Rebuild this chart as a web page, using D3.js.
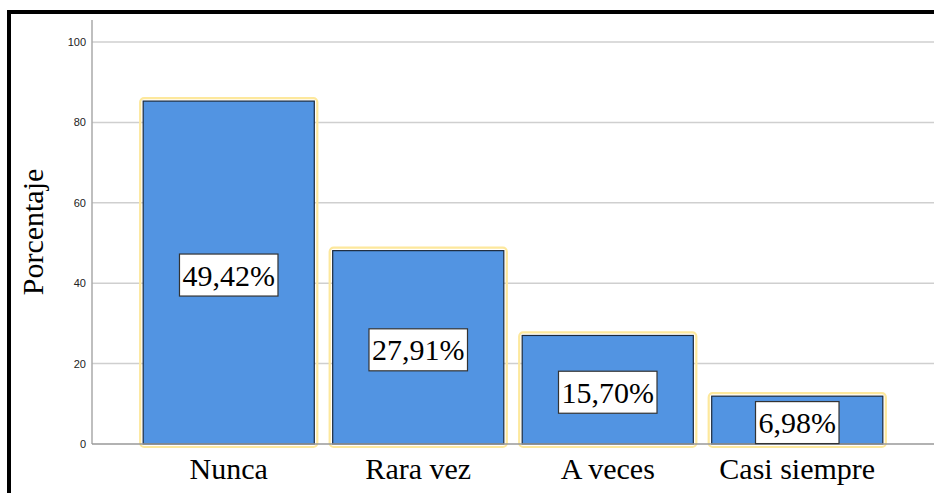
<!DOCTYPE html>
<html><head><meta charset="utf-8">
<script src="https://cdn.jsdelivr.net/npm/d3@7"></script>
<style>body{margin:0;background:#fff}svg{display:block}</style>
</head><body><svg id="c" width="934" height="493"></svg>
<script>
const categories = ["Nunca", "Rara vez", "A veces", "Casi siempre"];
const values = [85.3, 48.1, 27.0, 11.9];
const labels = ["49,42%", "27,91%", "15,70%", "6,98%"];
const yTicks = [0, 20, 40, 60, 80, 100];

(function () {
const svg = d3.select("#c");
const W = 934, H = 493;
const pLeft = 92, pRight = 934, pTop = 20, pBottom = 444;

// frame
svg.append("rect").attr("x", 9).attr("y", 12).attr("width", W).attr("height", H)
  .attr("fill", "none").attr("stroke", "#000").attr("stroke-width", 4);

const y = d3.scaleLinear().domain([0, 100]).range([pBottom, 42]);
const x = d3.scaleBand().domain(categories).range([pLeft, pRight]).paddingInner(0.097).paddingOuter(0.27);

// gridlines
svg.append("g").selectAll("line").data(yTicks.filter(t => t > 0)).join("line")
  .attr("x1", pLeft).attr("x2", pRight).attr("y1", d => y(d)).attr("y2", d => y(d))
  .attr("stroke", "#cfcfcf").attr("stroke-width", 1.5);

// y axis
const ya = svg.append("g").attr("transform", `translate(${pLeft},0)`)
  .call(d3.axisLeft(y).tickValues(yTicks).tickSize(0).tickPadding(6));
ya.select(".domain").remove();
ya.selectAll("text").attr("font-family", "Arial, 'Liberation Sans', sans-serif").attr("font-size", 11).attr("fill", "#222");
svg.append("line").attr("x1", pLeft).attr("x2", pLeft).attr("y1", pTop).attr("y2", pBottom)
  .attr("stroke", "#aaa").attr("stroke-width", 1.5);

// bars
const g = svg.append("g");
g.selectAll("rect.halo").data(values).join("rect").attr("class", "halo")
  .attr("x", (d, i) => x(categories[i]) - 3).attr("y", d => y(d) - 3)
  .attr("width", x.bandwidth() + 6).attr("height", d => pBottom - y(d) + 6)
  .attr("rx", 4).attr("fill", "none").attr("stroke", "#fde89c").attr("stroke-width", 2.2);
g.selectAll("rect.bar").data(values).join("rect").attr("class", "bar")
  .attr("x", (d, i) => x(categories[i])).attr("y", d => y(d))
  .attr("width", x.bandwidth()).attr("height", d => pBottom - y(d))
  .attr("fill", "#5294e2").attr("stroke", "#1c2a3c").attr("stroke-width", 1.2);

// x baseline
svg.append("line").attr("x1", pLeft).attr("x2", pRight).attr("y1", pBottom).attr("y2", pBottom)
  .attr("stroke", "#999").attr("stroke-width", 1.5);

// x axis labels
const xa = svg.append("g").attr("transform", `translate(0,${pBottom})`)
  .call(d3.axisBottom(x).tickSize(0).tickPadding(8));
xa.select(".domain").remove();
xa.selectAll("text").attr("font-family", "'Liberation Serif', 'Times New Roman', serif")
  .attr("font-size", 30).attr("fill", "#000").attr("dy", "0.9em");

// value labels
const lg = svg.append("g");
labels.forEach((t, i) => {
  const cx = x(categories[i]) + x.bandwidth() / 2;
  const cy = (y(values[i]) + pBottom) / 2 + 2.5;
  const grp = lg.append("g");
  const txt = grp.append("text").attr("x", cx).attr("y", cy).attr("text-anchor", "middle")
    .attr("dominant-baseline", "central")
    .attr("font-family", "'Liberation Serif', 'Times New Roman', serif").attr("font-size", 30)
    .attr("fill", "#000").text(t);
  const bb = txt.node().getBBox();
  grp.insert("rect", "text").attr("x", cx - bb.width / 2 - 3).attr("y", cy - 21)
    .attr("width", bb.width + 6).attr("height", 42)
    .attr("fill", "#fff").attr("stroke", "#333").attr("stroke-width", 1.2);
});

// y title
svg.append("text").attr("transform", `translate(43,${(pTop + pBottom) / 2}) rotate(-90)`)
  .attr("text-anchor", "middle").attr("font-family", "'Liberation Serif', 'Times New Roman', serif")
  .attr("font-size", 30).attr("fill", "#000").text("Porcentaje");
})();
</script></body></html>
